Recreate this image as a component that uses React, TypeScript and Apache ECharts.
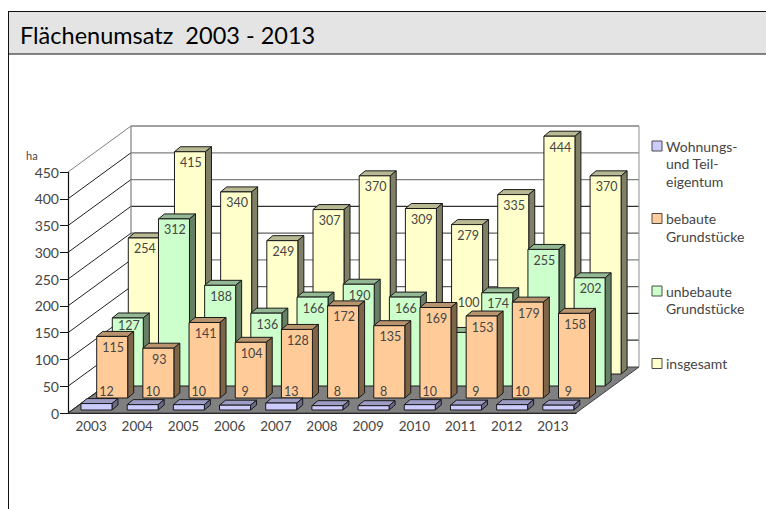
import React, { useEffect, useRef } from "react";
import * as echarts from "echarts";

const years = ["2003", "2004", "2005", "2006", "2007", "2008", "2009", "2010", "2011", "2012", "2013"];
const wohnungen = [12, 10, 10, 9, 13, 8, 8, 10, 9, 10, 9];
const bebaut = [115, 93, 141, 104, 128, 172, 135, 169, 153, 179, 158];
const unbebaut = [127, 312, 188, 136, 166, 190, 166, 100, 174, 255, 202];
const insgesamt = [254, 415, 340, 249, 307, 370, 309, 279, 335, 444, 370];
const yTicks = [0, 50, 100, 150, 200, 250, 300, 350, 400, 450];
const titleText = "Flächenumsatz  2003 - 2013";
const unitText = "ha";
const legendLabels = ["Wohnungs-\nund Teil-\neigentum", "bebaute\nGrundstücke", "unbebaute\nGrundstücke", "insgesamt"];

const FONT = "Lato";
const INK = "#454545";

// Oblique projection of the chart box: the back wall sits this far from the front plane.
const WALL_DX = 63;
const WALL_DY = 46;
const BAR_W = 31;
const BAR_DX = 6;
const BAR_DY = 5;

// Face colours per row, front to back.
const rows = [
  { name: "Wohnungen", values: wohnungen, dx: 5.4, dy: 3, front: "#ccccff", top: "#9c9cc4", side: "#6a6a88" },
  { name: "bebaut", values: bebaut, dx: 21.1, dy: 15, front: "#ffcc99", top: "#b8946e", side: "#7f6548" },
  { name: "unbebaut", values: unbebaut, dx: 36.7, dy: 27, front: "#ccffcc", top: "#93b893", side: "#668066" },
  { name: "insgesamt", values: insgesamt, dx: 52.7, dy: 39, front: "#ffffcc", top: "#b8b893", side: "#808066" },
];

// Back-wall rules alternate in weight once rasterised.
const ruleColors = ["#808080", "#303030", "#303030", "#606060", "#808080", "#606060", "#303030", "#808080", "#808080", "#808080"];

// Labels moved off their usual spot because the bar front is hidden or too short: "row:year" -> shift.
const labelShift: Record<string, [number, number]> = {
  "2:0": [0, -3.5],
  "2:7": [16.6, -41],
};

const renderWall = (params: any, api: any) => {
  const tick = api.value(0);
  const cs = params.coordSys;
  const y = api.coord([0, tick])[1];
  const x0 = cs.x;
  const x1 = cs.x + cs.width;
  const backColor = ruleColors[params.dataIndex];
  const children: any[] = [];
  if (tick === 0) {
    children.push({
      type: "polygon",
      shape: { points: [[x0, y], [x1, y], [x1 + WALL_DX, y - WALL_DY], [x0 + WALL_DX, y - WALL_DY]] },
      style: { fill: "#808080", stroke: "#404040", lineWidth: 1 },
    });
  } else {
    children.push({
      type: "line",
      shape: { x1: x0 + WALL_DX, y1: y - WALL_DY, x2: x1 + WALL_DX, y2: y - WALL_DY },
      style: { stroke: backColor, lineWidth: tick === 450 ? 1.5 : 1.2 },
    });
  }
  children.push({
    type: "line",
    shape: { x1: x0, y1: y, x2: x0 + WALL_DX, y2: y - WALL_DY },
    style: { stroke: tick === 450 ? "#808080" : "#202020", lineWidth: 1 },
  });
  if (tick === 450) {
    const bottom = api.coord([0, 0])[1] - WALL_DY;
    children.push(
      {
        type: "line",
        shape: { x1: x0 + WALL_DX, y1: y - WALL_DY, x2: x0 + WALL_DX, y2: bottom },
        style: { stroke: "#808080", lineWidth: 1.2 },
      },
      {
        type: "line",
        shape: { x1: x1 + WALL_DX, y1: y - WALL_DY, x2: x1 + WALL_DX, y2: bottom },
        style: { stroke: "#a0a0a0", lineWidth: 1.2 },
      }
    );
  }
  return { type: "group", children };
};

const makeBarRenderer = (rowIndex: number) => (params: any, api: any) => {
  const row = rows[rowIndex];
  const base = api.coord([api.value(0), 0]);
  const head = api.coord([api.value(0), api.value(1)]);
  const left = base[0] + row.dx - BAR_W / 2;
  const right = left + BAR_W;
  const bottom = base[1] - row.dy;
  const top = head[1] - row.dy;
  const edge = { stroke: "#1a1a1a", lineWidth: 1 };
  return {
    type: "group",
    children: [
      {
        type: "polygon",
        shape: { points: [[left, top], [right, top], [right + BAR_DX, top - BAR_DY], [left + BAR_DX, top - BAR_DY]] },
        style: { fill: row.top, ...edge },
      },
      {
        type: "polygon",
        shape: { points: [[right, top], [right + BAR_DX, top - BAR_DY], [right + BAR_DX, bottom - BAR_DY], [right, bottom]] },
        style: { fill: row.side, ...edge },
      },
      {
        type: "rect",
        shape: { x: left, y: top, width: BAR_W, height: bottom - top },
        style: { fill: row.front, ...edge },
      },
    ],
  };
};

// Value labels go in their own front-most series so a nearer bar never covers them.
const makeLabelRenderer = (rowIndex: number) => (params: any, api: any) => {
  const row = rows[rowIndex];
  const base = api.coord([api.value(0), 0]);
  const head = api.coord([api.value(0), api.value(1)]);
  const left = base[0] + row.dx - BAR_W / 2;
  const top = head[1] - row.dy;
  const shift = labelShift[`${rowIndex}:${params.dataIndex}`] || [0, 0];
  const y = rowIndex === 0 ? base[1] - 21.5 : top + 11;
  const x = rowIndex === 0 ? left + BAR_W / 2 + 10 : left + BAR_W / 2 + 1;
  return {
    type: "text",
    x: x + shift[0],
    y: y + shift[1],
    style: {
      text: String(api.value(1)),
      fill: INK,
      font: `12.5px ${FONT}`,
      align: "center",
      verticalAlign: "middle",
    },
  };
};

const legendGraphics = legendLabels.flatMap((label, i) => {
  const y = 141 + i * 72.5;
  return [
    {
      type: "rect",
      shape: { x: 652, y, width: 10, height: 10 },
      style: { fill: rows[i].front, stroke: "#4a4a4a", lineWidth: 1 },
    },
    {
      type: "text",
      x: 666,
      y: y - 3.5,
      style: { text: label, fill: INK, font: `14px ${FONT}`, lineHeight: 17.6 },
    },
  ];
});

const frameGraphics = [
  { type: "rect", shape: { x: 8, y: 12, width: 758, height: 42 }, style: { fill: "#e4e4e4" }, z: -1 },
  { type: "line", shape: { x1: 8, y1: 11.5, x2: 766, y2: 11.5 }, style: { stroke: "#111", lineWidth: 1 } },
  { type: "line", shape: { x1: 8, y1: 54, x2: 766, y2: 54 }, style: { stroke: "#111", lineWidth: 1 } },
  { type: "line", shape: { x1: 8.5, y1: 11, x2: 8.5, y2: 509 }, style: { stroke: "#111", lineWidth: 1 } },
  { type: "text", x: 26, y: 150, style: { text: unitText, fill: INK, font: `11px ${FONT}` } },
];

export default function App() {
  const ref = useRef<HTMLDivElement>(null);

  useEffect(() => {
    const chart = echarts.init(ref.current!, undefined, { renderer: "svg" });
    chart.setOption({
      animation: false,
      backgroundColor: "#ffffff",
      title: {
        text: titleText,
        left: 15,
        top: 18,
        textStyle: { color: "#000000", fontFamily: FONT, fontWeight: "normal", fontSize: 23.5 },
      },
      grid: { left: 68, top: 172, width: 508, height: 241 },
      xAxis: {
        type: "category",
        data: years,
        axisLine: { lineStyle: { color: "#111111", width: 1.2 } },
        axisTick: { show: false },
        axisLabel: { color: INK, fontFamily: FONT, fontSize: 13.5, margin: 6, interval: 0 },
      },
      yAxis: {
        type: "value",
        min: 0,
        max: 450,
        interval: 50,
        axisLine: { show: true, lineStyle: { color: "#111111", width: 1.2 } },
        axisTick: { show: true, length: 8, lineStyle: { color: "#111111" } },
        axisLabel: { color: INK, fontFamily: FONT, fontSize: 14, margin: 9 },
        splitLine: { show: false },
      },
      graphic: [...frameGraphics, ...legendGraphics],
      series: [
        {
          type: "custom",
          name: "wall",
          z: 1,
          silent: true,
          renderItem: renderWall,
          data: yTicks.map((t) => [t]),
          encode: { y: 0 },
        },
        ...[3, 2, 1, 0].map((rowIndex, order) => ({
          type: "custom",
          name: rows[rowIndex].name,
          z: 3 + order,
          renderItem: makeBarRenderer(rowIndex),
          data: rows[rowIndex].values.map((v, i) => [i, v]),
          encode: { x: 0, y: 1 },
        })),
        ...[3, 2, 1, 0].map((rowIndex) => ({
          type: "custom",
          name: `${rows[rowIndex].name} Werte`,
          z: 10,
          renderItem: makeLabelRenderer(rowIndex),
          data: rows[rowIndex].values.map((v, i) => [i, v]),
          encode: { x: 0, y: 1 },
        })),
      ],
    });
    return () => chart.dispose();
  }, []);

  return <div ref={ref} style={{ position: "fixed", left: 0, top: 0, width: 766, height: 509 }} />;
}
